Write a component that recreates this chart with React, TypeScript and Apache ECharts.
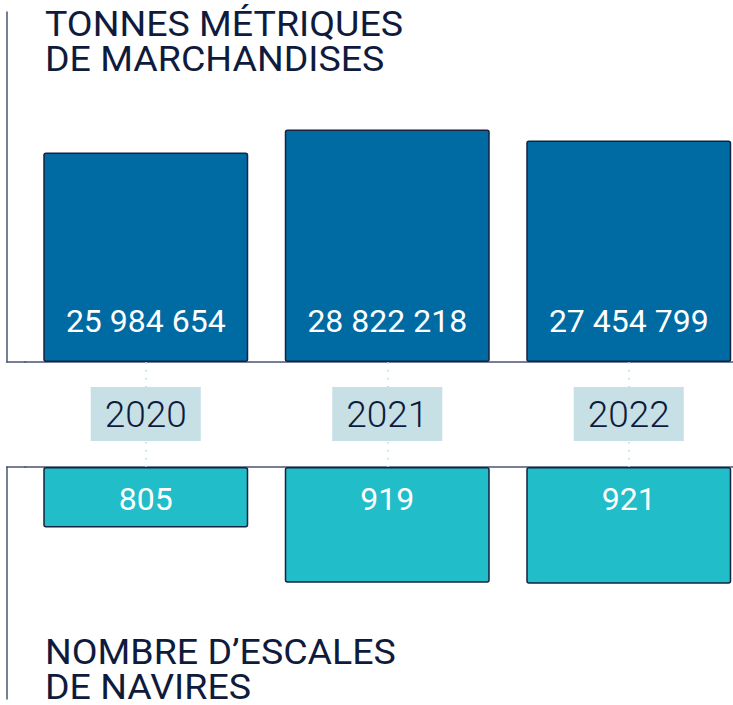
import React, { useEffect, useRef } from 'react';
import * as echarts from 'echarts';

const years = ['2020', '2021', '2022'];
const tonnes = [25984654, 28822218, 27454799];
const escales = [805, 919, 921];
const titleTop = 'TONNES MÉTRIQUES\nDE MARCHANDISES';
const titleBottom = 'NOMBRE D’ESCALES\nDE NAVIRES';

const fmt = (v: number) => String(v).replace(/\B(?=(\d{3})+(?!\d))/g, ' ');

export default function App() {
  const ref = useRef<HTMLDivElement>(null);
  useEffect(() => {
    const chart = echarts.init(ref.current!, null, { renderer: 'svg' });
    const font = 'Roboto, "Noto Sans", sans-serif';
    const navy = '#0f1b3d';
    const axisColor = '#4a5473';
    const barBorder = '#16223f';
    chart.setOption({
      animation: false,
      grid: [
        { left: 25, width: 724.5, top: 12, height: 350 },
        { left: 25, width: 724.5, top: 467, height: 232 },
      ],
      xAxis: [
        {
          gridIndex: 0,
          type: 'category',
          data: years,
          axisLine: { show: true, lineStyle: { color: axisColor, width: 1.5 } },
          axisTick: {
            show: true,
            alignWithLabel: true,
            length: 105,
            lineStyle: { color: '#b3d6e0', width: 1.5, type: [1.5, 6.5] },
          },
          axisLabel: {
            show: true,
            margin: 25,
            fontFamily: font,
            fontWeight: 300,
            fontSize: 37,
            lineHeight: 37,
            color: navy,
            backgroundColor: '#c7e0e6',
            padding: [8.5, 14, 8.5, 14],
          },
          splitLine: { show: false },
        },
        {
          gridIndex: 1,
          type: 'category',
          data: years,
          position: 'top',
          axisLine: { show: true, lineStyle: { color: axisColor, width: 1.5 } },
          axisTick: { show: false },
          axisLabel: { show: false },
          splitLine: { show: false },
        },
      ],
      yAxis: [
        {
          gridIndex: 0,
          type: 'value',
          min: 0,
          max: 43400000,
          offset: 18,
          axisLine: { show: true, lineStyle: { color: axisColor, width: 1.5 } },
          axisTick: { show: false },
          axisLabel: { show: false },
          splitLine: { show: false },
        },
        {
          gridIndex: 1,
          type: 'value',
          inverse: true,
          min: 680,
          max: 1159,
          startValue: 680,
          offset: 18,
          axisLine: { show: true, lineStyle: { color: axisColor, width: 1.5 } },
          axisTick: { show: false },
          axisLabel: { show: false },
          splitLine: { show: false },
        },
      ],
      series: [
        {
          type: 'bar',
          xAxisIndex: 0,
          yAxisIndex: 0,
          data: tonnes,
          barWidth: 205,
          itemStyle: { color: '#006ba3', borderColor: barBorder, borderWidth: 1.5, borderRadius: 2 },
          label: {
            show: true,
            position: 'insideBottom',
            distance: 25,
            fontFamily: font,
            fontWeight: 'normal',
            fontSize: 32,
            lineHeight: 32,
            color: '#ffffff',
            formatter: (p: any) => fmt(p.value),
          },
        },
        {
          type: 'bar',
          xAxisIndex: 1,
          yAxisIndex: 1,
          data: escales,
          barWidth: 205,
          itemStyle: { color: '#21bdc8', borderColor: barBorder, borderWidth: 1.5, borderRadius: 2 },
          label: {
            show: true,
            position: 'insideTop',
            distance: 16,
            fontFamily: font,
            fontWeight: 'normal',
            fontSize: 32,
            lineHeight: 32,
            color: '#ffffff',
            formatter: (p: any) => fmt(p.value),
          },
        },
      ],
      graphic: [
        {
          type: 'line',
          shape: { x1: 6.25, y1: 362, x2: 26, y2: 362 },
          style: { stroke: axisColor, lineWidth: 1.5 },
        },
        {
          type: 'line',
          shape: { x1: 6.25, y1: 467, x2: 26, y2: 467 },
          style: { stroke: axisColor, lineWidth: 1.5 },
        },
        {
          type: 'text',
          x: 45,
          y: 7.5,
          scaleX: 1.088,
          style: {
            text: titleTop,
            font: `34.5px ${font}`,
            lineHeight: 35,
            fill: navy,
            textVerticalAlign: 'top',
          },
        },
        {
          type: 'text',
          x: 45,
          y: 635,
          scaleX: 1.088,
          style: {
            text: titleBottom,
            font: `34.5px ${font}`,
            lineHeight: 35,
            fill: navy,
            textVerticalAlign: 'top',
          },
        },
      ],
    });
    return () => chart.dispose();
  }, []);
  return (
    <div style={{ position: 'absolute', left: 0, top: 0, width: 733, height: 705, overflow: 'hidden' }}>
      <div ref={ref} style={{ width: 760, height: 705 }} />
    </div>
  );
}
